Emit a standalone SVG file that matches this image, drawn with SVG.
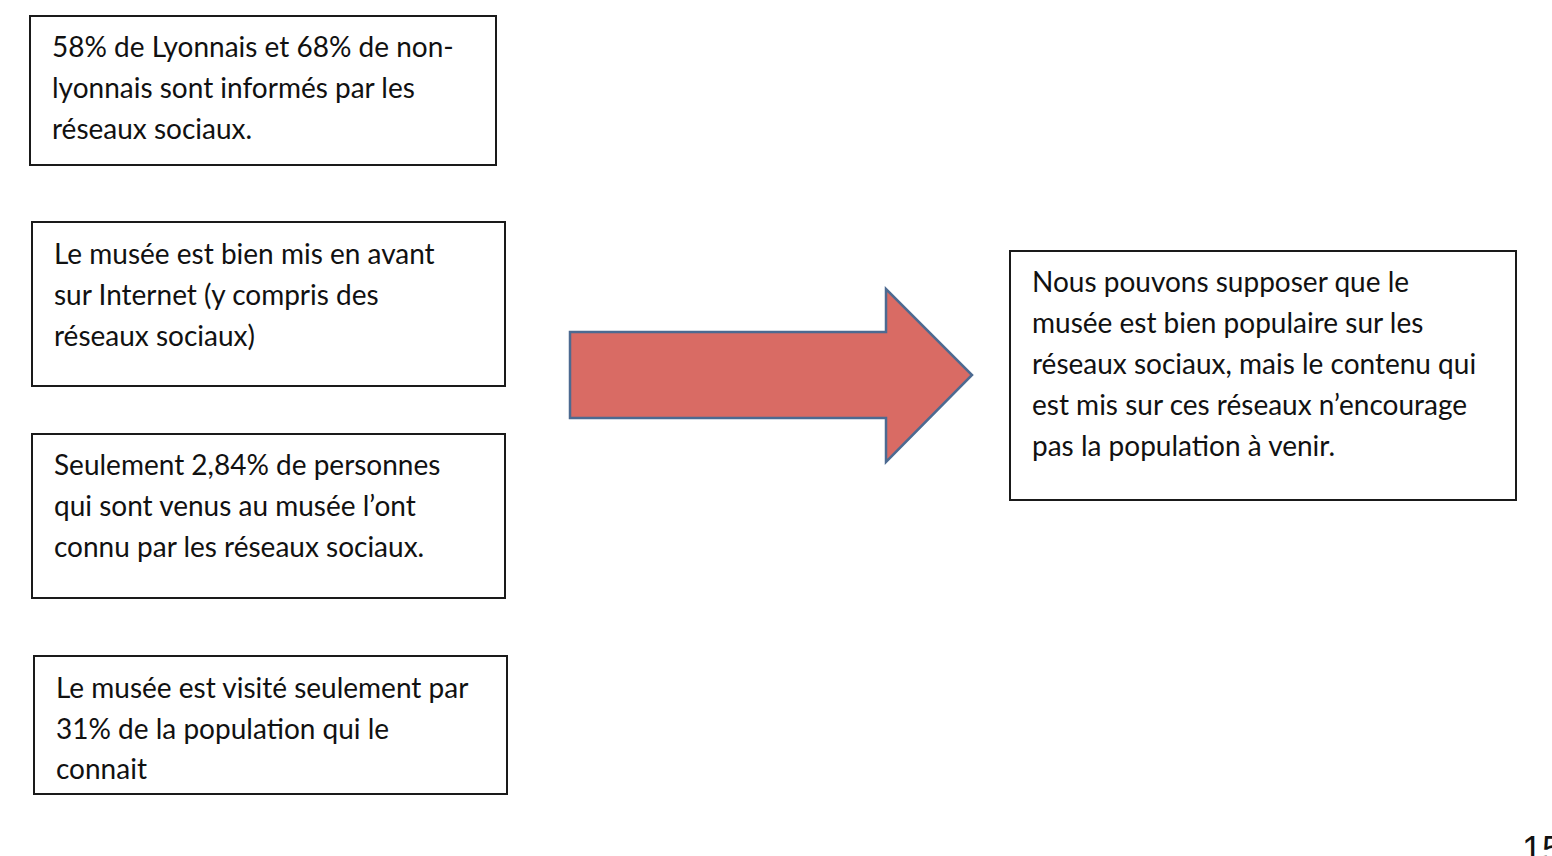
<svg xmlns="http://www.w3.org/2000/svg" width="1552" height="856" viewBox="0 0 1552 856">
<style>
.box{fill:#fff;stroke:#1a1a1a;stroke-width:2}
.t{font-family:Lato,"Open Sans","Liberation Sans",sans-serif;font-size:28px;fill:#111}
.arrow{fill:#D96B64;stroke:#4C6A91;stroke-width:2.5;stroke-linejoin:miter}
</style>
<rect width="1552" height="856" fill="#fff"/>
<g id="node1">
<rect class="box" x="30" y="16" width="466" height="149"/>
<text class="t" x="52" y="57">58% de Lyonnais et 68% de non-</text>
<text class="t" x="52" y="98">lyonnais sont informés par les</text>
<text class="t" x="52" y="139">réseaux sociaux.</text>
</g>
<g id="node2">
<rect class="box" x="32" y="222" width="473" height="164"/>
<text class="t" x="54" y="264">Le musée est bien mis en avant</text>
<text class="t" x="54" y="305">sur Internet (y compris des</text>
<text class="t" x="54" y="346">réseaux sociaux)</text>
</g>
<g id="node3">
<rect class="box" x="32" y="434" width="473" height="164"/>
<text class="t" x="54" y="475">Seulement 2,84% de personnes</text>
<text class="t" x="54" y="516">qui sont venus au musée l’ont</text>
<text class="t" x="54" y="557">connu par les réseaux sociaux.</text>
</g>
<g id="node4">
<rect class="box" x="34" y="656" width="473" height="138"/>
<text class="t" x="56" y="698">Le musée est visité seulement par</text>
<text class="t" x="56" y="739">31% de la population qui le</text>
<text class="t" x="56" y="779">connait</text>
</g>
<g id="connectors">
<path class="arrow" d="M570 332 L886 332 L886 289 L972 375 L886 462 L886 418 L570 418 Z"/>
</g>
<g id="node5">
<rect class="box" x="1010" y="251" width="506" height="249"/>
<text class="t" x="1032" y="292">Nous pouvons supposer que le</text>
<text class="t" x="1032" y="333">musée est bien populaire sur les</text>
<text class="t" x="1032" y="374">réseaux sociaux, mais le contenu qui</text>
<text class="t" x="1032" y="415">est mis sur ces réseaux n’encourage</text>
<text class="t" x="1032" y="456">pas la population à venir.</text>
</g>
<text x="1522" y="862" font-family="'Liberation Sans',sans-serif" font-size="36" fill="#111">15</text>
</svg>
